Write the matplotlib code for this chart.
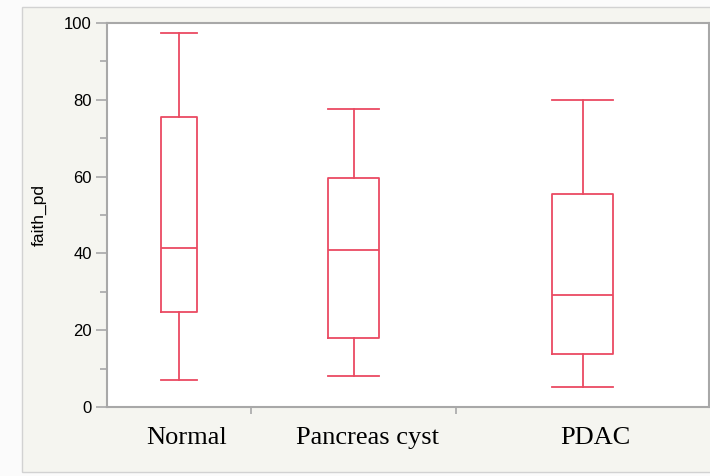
import matplotlib.pyplot as plt
from matplotlib.patches import Rectangle
from matplotlib.transforms import ScaledTranslation
import numpy as np

# ----- data -----
groups = ["Normal", "Pancreas cyst", "PDAC"]
group_weights = [144, 205, 253]   # category widths (JMP scales by group size)
whisker_lo = [7.0, 8.0, 5.3]
q1 = [24.8, 18.0, 13.8]
median = [41.5, 41.0, 29.2]
q3 = [75.5, 59.7, 55.5]
whisker_hi = [97.5, 77.5, 80.0]

RED = "#ea4a62"
GREY = "#a8a8a8"

fig = plt.figure(figsize=(7.1, 4.76), dpi=100)
fig.patch.set_facecolor("#fbfbfb")
fig.patches.append(Rectangle((22 / 710, 4 / 476), 1.0, 465 / 476, transform=fig.transFigure,
                             facecolor="#f5f5f0", edgecolor="#d2d2d2", lw=1.0, zorder=-10))

ax = fig.add_axes([107 / 710, 1 - 407 / 476, 602 / 710, 384 / 476])
ax.set_facecolor("white")

edges = np.concatenate([[0], np.cumsum(group_weights)])
centers = (edges[:-1] + edges[1:]) / 2
widths = 0.245 * np.array(group_weights)

stats = []
for i, g in enumerate(groups):
    stats.append({"label": g, "whislo": whisker_lo[i], "q1": q1[i], "med": median[i],
                  "q3": q3[i], "whishi": whisker_hi[i], "fliers": []})

style = dict(color=RED, lw=1.3)
ax.bxp(stats, positions=centers, widths=widths, capwidths=widths, showfliers=False,
       boxprops=style, medianprops=style, whiskerprops=style, capprops=style)

ax.set_xlim(edges[0], edges[-1])
ax.set_ylim(0, 100)

for s in ax.spines.values():
    s.set_color(GREY)
    s.set_linewidth(1.5)

ax.set_yticks(range(0, 101, 20))
ax.set_yticks(range(10, 100, 20), minor=True)
ax.tick_params(axis="y", which="major", length=8, width=1.2, color=GREY, labelsize=12,
               pad=3)
ax.tick_params(axis="y", which="minor", length=5, width=1.2, color=GREY)
for lab in ax.get_yticklabels():
    lab.set_fontfamily("Liberation Sans")

# category separators on bottom axis, labels sit a bit right of box centres
ax.set_xticks(edges[1:-1])
ax.set_xticklabels([])
ax.tick_params(axis="x", which="major", length=5, width=1.2, color=GREY)
shift_px = [8, 14, 13]
for c, g, dx in zip(centers, groups, shift_px):
    tr = ax.transData + ScaledTranslation(dx / 100, 0, fig.dpi_scale_trans)
    ax.text(c, -5.3, g, ha="center", va="top", fontsize=19,
            fontfamily="Liberation Serif", transform=tr, clip_on=False)

ax.set_ylabel("faith_pd", fontsize=12.5, fontfamily="Liberation Sans")
ax.yaxis.set_label_coords(-0.1, 0.5)

fig.savefig("out.png", dpi=100, facecolor=fig.get_facecolor())
